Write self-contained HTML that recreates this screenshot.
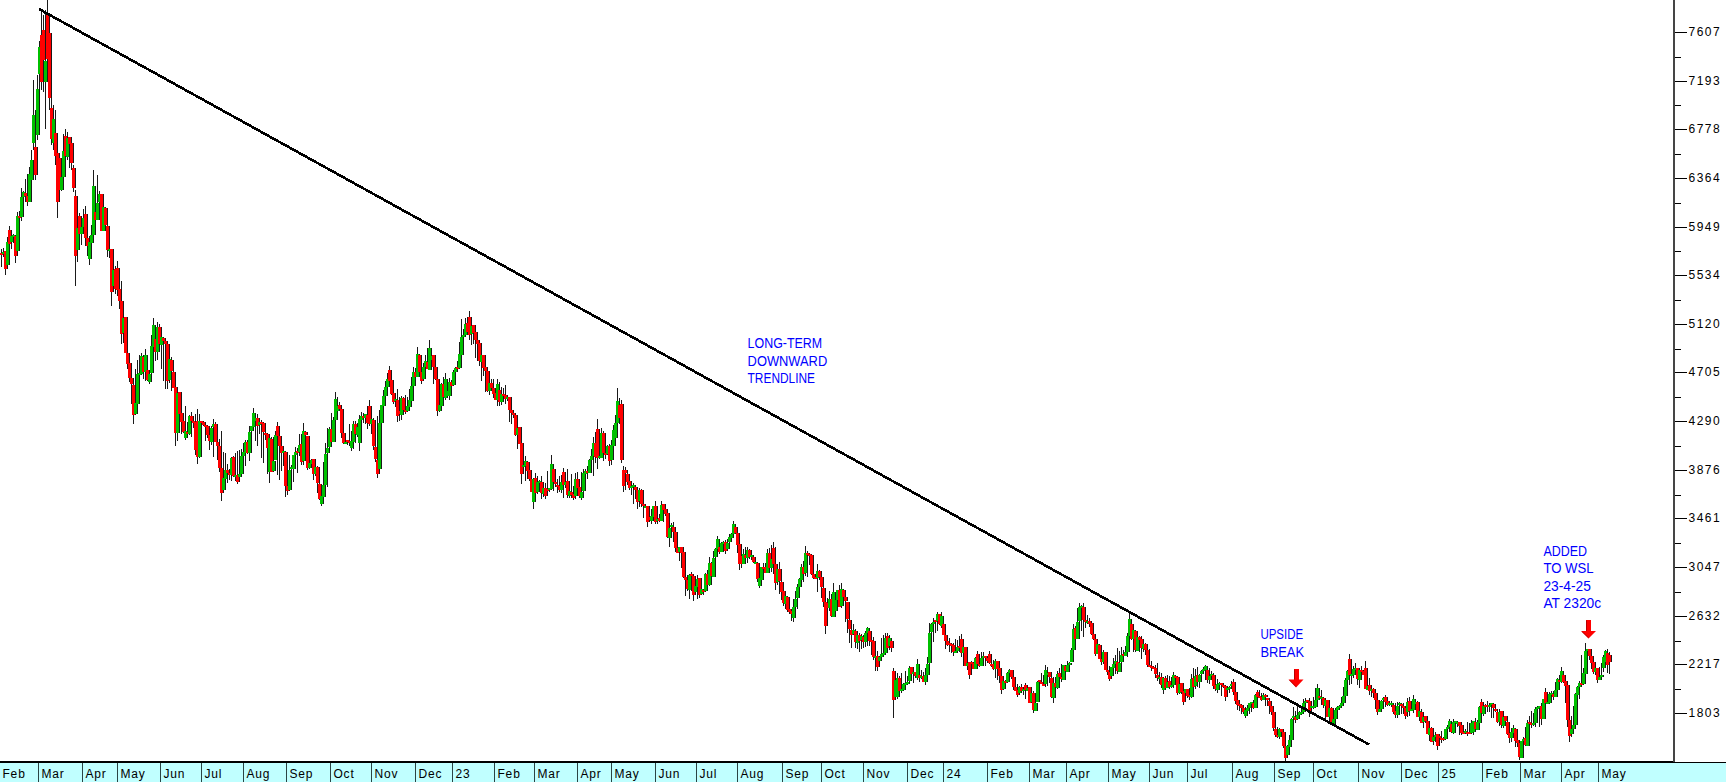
<!DOCTYPE html>
<html><head><meta charset="utf-8"><title>Chart</title>
<style>html,body{margin:0;padding:0;background:#fff;overflow:hidden}svg{display:block}.g{fill:#00c000}.r{fill:#ff0000}text{font-family:"Liberation Sans",sans-serif}</style>
</head><body><svg width="1726" height="782" viewBox="0 0 1726 782"><rect width="1726" height="782" fill="#fff"/><g shape-rendering="crispEdges"><path d="M1.5 249V267M3.5 253V255M3.5 248V257M5.5 252V254M5.5 251V275M7.5 251V269M7.5 237V265M9.5 242V265M9.5 226V247M11.5 230V244M11.5 232V249M13.5 236V242M13.5 234V243M15.5 235V237M15.5 235V263M17.5 236V256M17.5 212V255M19.5 216V251M19.5 211V235M21.5 216V218M21.5 188V221M23.5 197V217M23.5 191V200M25.5 192V197M25.5 179V202M27.5 193V196M27.5 174V206M29.5 196V202M29.5 167V202M31.5 174V202M31.5 150V190M33.5 160V180M33.5 80V150M35.5 115V143M35.5 110V180M37.5 147V175M37.5 75V140M39.5 89V135M39.5 41V100M41.5 47V74M41.5 12V90M43.5 35V82M43.5 15V92M45.5 30V60M45.5 10V129M47.5 61V82M47.5 0V65M49.5 14V59M49.5 25V110M51.5 33V98M51.5 90V145M53.5 108V139M53.5 105V150M55.5 119V143M55.5 110V165M57.5 133V156M57.5 151V218M59.5 153V202M59.5 158V192M61.5 158V190M61.5 166V191M63.5 177V190M63.5 134V178M65.5 151V177M65.5 129V162M67.5 136V156M67.5 132V160M69.5 138V157M69.5 137V168M71.5 137V144M71.5 143V170M73.5 143V163M73.5 165V192M75.5 168V188M75.5 190V286M77.5 196V256M77.5 225V262M79.5 228V250M79.5 213V239M81.5 216V234M81.5 218V245M83.5 227V234M83.5 209V228M85.5 218V227M85.5 206V246M87.5 214V238M87.5 237V256M89.5 238V246M89.5 236V265M91.5 242V259M91.5 225V255M93.5 235V243M93.5 170V236M95.5 186V235M95.5 206V223M97.5 212V220M97.5 175V220M99.5 203V220M99.5 191V212M101.5 194V202M101.5 194V231M103.5 194V231M103.5 200V231M105.5 207V231M105.5 207V226M107.5 208V225M107.5 216V257M109.5 226V250M109.5 244V258M111.5 249V251M111.5 249V306M113.5 249V292M113.5 268V292M115.5 270V286M115.5 266V294M117.5 269V289M117.5 261V296M119.5 268V290M119.5 287V309M121.5 289V301M121.5 281V344M123.5 301V334M123.5 312V343M125.5 318V333M125.5 317V353M127.5 317V353M127.5 346V369M129.5 353V364M129.5 360V382M131.5 363V378M131.5 378V404M133.5 378V384M133.5 379V424M135.5 385V415M135.5 369V414M137.5 403V414M137.5 360V404M139.5 374V404M139.5 355V376M141.5 373V375M141.5 353V375M143.5 356V374M143.5 355V379M145.5 357V372M145.5 349V381M147.5 355V372M147.5 367V381M149.5 370V380M149.5 373V384M151.5 374V382M151.5 335V375M153.5 346V373M153.5 318V365M155.5 325V347M155.5 330V361M157.5 339V352M157.5 322V360M159.5 327V352M159.5 324V345M161.5 327V344M161.5 327V369M163.5 337V345M163.5 337V381M165.5 338V341M165.5 340V389M167.5 341V344M167.5 344V389M169.5 344V381M169.5 352V383M171.5 359V380M171.5 357V391M173.5 360V371M173.5 370V388M175.5 372V388M175.5 373V446M177.5 387V433M177.5 389V441M179.5 393V433M179.5 392V428M181.5 392V414M181.5 413V434M183.5 413V422M183.5 417V433M185.5 421V432M185.5 406V440M187.5 431V438M187.5 422V434M189.5 432V434M189.5 415V435M191.5 416V434M191.5 412V437M193.5 416V421M193.5 417V428M195.5 421V423M195.5 414V455M197.5 422V450M197.5 409V464M199.5 421V457M199.5 414V458M201.5 421V457M201.5 421V440M203.5 421V423M203.5 421V426M205.5 422V425M205.5 425V441M207.5 425V427M207.5 426V438M209.5 426V435M209.5 427V450M211.5 435V441M211.5 426V445M213.5 428V442M213.5 419V457M215.5 424V427M215.5 422V442M217.5 424V442M217.5 430V460M219.5 442V446M219.5 439V472M221.5 446V468M221.5 431V501M223.5 468V493M223.5 452V493M225.5 478V490M225.5 453V481M227.5 470V479M227.5 464V483M229.5 470V473M229.5 469V480M231.5 473V475M231.5 457V481M233.5 458V475M233.5 456V477M235.5 457V476M235.5 453V481M237.5 475V477M237.5 451V484M239.5 475V482M239.5 450V480M241.5 474V477M241.5 449V476M243.5 456V474M243.5 443V465M245.5 452V456M245.5 440V466M247.5 442V453M247.5 440V454M249.5 442V453M249.5 426V461M251.5 432V453M251.5 426V433M253.5 426V431M253.5 408V429M255.5 413V427M255.5 418V441M257.5 418V421M257.5 414V446M259.5 418V426M259.5 419V434M261.5 422V425M261.5 420V458M263.5 422V424M263.5 423V463M265.5 423V432M265.5 432V440M267.5 433V435M267.5 434V474M269.5 434V448M269.5 435V483M271.5 438V472M271.5 437V472M273.5 439V472M273.5 437V472M275.5 461V471M275.5 431V460M277.5 435V460M277.5 422V475M279.5 426V436M279.5 434V480M281.5 436V446M281.5 437V471M283.5 446V453M283.5 448V466M285.5 451V453M285.5 451V497M287.5 452V486M287.5 482V495M289.5 486V491M289.5 455V490M291.5 470V490M291.5 465V483M293.5 467V469M293.5 455V482M295.5 455V469M295.5 447V458M297.5 452V455M297.5 448V473M299.5 451V453M299.5 434V456M301.5 445V452M301.5 434V465M303.5 444V462M303.5 423V465M305.5 431V461M305.5 431V461M307.5 432V435M307.5 436V470M309.5 436V468M309.5 448V469M311.5 463V468M311.5 459V466M313.5 460V464M313.5 459V480M315.5 459V474M315.5 463V476M317.5 467V474M317.5 466V493M319.5 467V483M319.5 475V500M321.5 484V499M321.5 494V506M323.5 496V504M323.5 462V497M325.5 485V497M325.5 443V489M327.5 454V485M327.5 428V487M329.5 448V453M329.5 427V452M331.5 429V447M331.5 413V443M333.5 429V442M333.5 417V442M335.5 420V442M335.5 392V420M337.5 399V420M337.5 397V420M339.5 406V411M339.5 402V411M341.5 405V409M341.5 407V438M343.5 409V433M343.5 414V444M345.5 433V443M345.5 440V444M347.5 442V444M347.5 440V445M349.5 440V442M349.5 424V446M351.5 441V443M351.5 431V451M353.5 441V448M353.5 421V449M355.5 424V442M355.5 421V443M357.5 424V434M357.5 423V437M359.5 427V435M359.5 415V451M361.5 419V443M361.5 412V436M363.5 416V420M363.5 413V423M365.5 416V418M365.5 414V424M367.5 414V418M367.5 406V429M369.5 415V423M369.5 400V426M371.5 406V424M371.5 414V434M373.5 419V424M373.5 418V450M375.5 420V446M375.5 436V462M377.5 447V459M377.5 416V478M379.5 460V474M379.5 410V469M381.5 423V469M381.5 405V430M383.5 405V423M383.5 390V413M385.5 396V406M385.5 381V402M387.5 387V396M387.5 373V388M389.5 379V387M389.5 366V387M391.5 370V381M391.5 371V395M393.5 380V394M393.5 390V404M395.5 393V402M395.5 394V407M397.5 399V401M397.5 389V422M399.5 400V416M399.5 397V421M401.5 411V414M401.5 396V420M403.5 398V415M403.5 397V411M405.5 398V410M405.5 395V414M407.5 410V412M407.5 397V411M409.5 406V411M409.5 389V408M411.5 400V407M411.5 377V401M413.5 386V401M413.5 367V392M415.5 372V386M415.5 368V383M417.5 372V377M417.5 347V377M419.5 354V377M419.5 355V372M421.5 355V372M421.5 362V384M423.5 372V381M423.5 363V380M425.5 367V379M425.5 355V370M427.5 361V367M427.5 348V369M429.5 362V369M429.5 340V370M431.5 348V370M431.5 352V369M433.5 356V360M433.5 355V384M435.5 355V367M435.5 367V380M437.5 367V379M437.5 379V416M439.5 379V411M439.5 403V412M441.5 405V411M441.5 383V408M443.5 384V406M443.5 377V401M445.5 384V397M445.5 373V400M447.5 379V398M447.5 379V398M449.5 391V396M449.5 378V400M451.5 382V396M451.5 380V387M453.5 382V386M453.5 370V385M455.5 372V385M455.5 367V376M457.5 368V372M457.5 361V371M459.5 367V369M459.5 342V368M461.5 354V368M461.5 319V355M463.5 337V355M463.5 329V339M465.5 335V337M465.5 318V337M467.5 324V335M467.5 317V335M469.5 323V332M469.5 311V340M471.5 317V335M471.5 323V345M473.5 326V334M473.5 325V344M475.5 325V333M475.5 331V358M477.5 332V340M477.5 338V361M479.5 340V344M479.5 342V366M481.5 343V361M481.5 346V381M483.5 355V362M483.5 355V376M485.5 355V368M485.5 367V392M487.5 367V371M487.5 371V392M489.5 371V391M489.5 381V395M491.5 383V391M491.5 379V388M493.5 383V388M493.5 379V398M495.5 388V394M495.5 390V400M497.5 393V400M497.5 379V406M499.5 384V400M499.5 382V406M501.5 390V402M501.5 387V405M503.5 394V402M503.5 388V402M505.5 394V396M505.5 385V404M507.5 395V399M507.5 397V401M509.5 397V399M509.5 397V422M511.5 397V410M511.5 410V424M513.5 410V413M513.5 412V418M515.5 413V415M515.5 415V436M517.5 415V435M517.5 424V449M519.5 428V435M519.5 427V444M521.5 427V444M521.5 435V484M523.5 443V474M523.5 457V467M525.5 465V467M525.5 456V481M527.5 461V466M527.5 461V479M529.5 462V471M529.5 467V481M531.5 470V479M531.5 479V492M533.5 479V492M533.5 478V509M535.5 479V502M535.5 473V494M537.5 478V493M537.5 476V494M539.5 482V492M539.5 480V483M541.5 481V483M541.5 476V499M543.5 482V493M543.5 487V497M545.5 488V494M545.5 483V499M547.5 488V496M547.5 471V495M549.5 489V491M549.5 488V492M551.5 488V490M551.5 455V489M553.5 464V489M553.5 469V491M555.5 469V482M555.5 482V487M557.5 482V484M557.5 479V493M559.5 485V487M559.5 476V492M561.5 486V490M561.5 475V493M563.5 482V490M563.5 468V498M565.5 472V485M565.5 475V488M567.5 482V485M567.5 469V498M569.5 481V495M569.5 486V498M571.5 491V496M571.5 474V498M573.5 492V495M573.5 486V500M575.5 494V498M575.5 473V499M577.5 479V496M577.5 472V491M579.5 479V488M579.5 484V498M581.5 487V496M581.5 472V500M583.5 492V498M583.5 469V492M585.5 473V491M585.5 469V476M587.5 471V474M587.5 466V479M589.5 471V473M589.5 459V473M591.5 460V473M591.5 449V463M593.5 456V460M593.5 437V476M595.5 443V456M595.5 432V463M597.5 443V457M597.5 419V469M599.5 429V458M599.5 444V459M601.5 456V458M601.5 428V458M603.5 433V458M603.5 431V461M605.5 433V453M605.5 446V459M607.5 453V455M607.5 445V455M609.5 446V454M609.5 444V466M611.5 446V461M611.5 440V465M613.5 445V460M613.5 425V452M615.5 430V446M615.5 415V442M617.5 423V438M617.5 388V428M619.5 401V423M619.5 398V424M621.5 405V418M621.5 400V463M623.5 404V460M623.5 466V492M625.5 470V486M625.5 467V490M627.5 470V473M627.5 471V485M629.5 474V482M629.5 480V490M631.5 481V488M631.5 485V495M633.5 486V488M633.5 483V504M635.5 485V487M635.5 487V499M637.5 487V490M637.5 489V509M639.5 490V502M639.5 488V507M641.5 490V501M641.5 489V507M643.5 490V504M643.5 503V518M645.5 504V506M645.5 505V508M647.5 506V508M647.5 506V527M649.5 506V522M649.5 509V520M651.5 517V520M651.5 509V524M653.5 516V521M653.5 506V518M655.5 506V517M655.5 501V524M657.5 506V522M657.5 509V524M659.5 519V521M659.5 514V522M661.5 518V521M661.5 501V521M663.5 505V521M663.5 504V522M665.5 504V510M665.5 509V516M667.5 509V514M667.5 513V538M669.5 513V537M669.5 521V547M671.5 528V538M671.5 523V528M673.5 525V527M673.5 522V542M675.5 527V532M675.5 530V552M677.5 532V548M677.5 540V553M679.5 548V553M679.5 547V561M681.5 547V552M681.5 547V568M683.5 547V553M683.5 552V578M685.5 552V577M685.5 565V596M687.5 577V580M687.5 575V591M689.5 580V589M689.5 574V599M691.5 575V590M691.5 572V591M693.5 574V576M693.5 575V601M695.5 576V595M695.5 584V595M697.5 586V592M697.5 575V599M699.5 579V587M699.5 578V598M701.5 578V595M701.5 580V595M703.5 589V594M703.5 590V595M705.5 590V592M705.5 573V591M707.5 574V591M707.5 570V586M709.5 574V585M709.5 557V586M711.5 563V585M711.5 562V577M713.5 563V576M713.5 551V577M715.5 558V577M715.5 548V561M717.5 549V557M717.5 536V549M719.5 539V549M719.5 540V554M721.5 547V552M721.5 542V552M723.5 543V552M723.5 541V551M725.5 542V544M725.5 540V554M727.5 542V551M727.5 539V551M729.5 543V549M729.5 534V547M731.5 537V542M731.5 533V540M733.5 534V538M733.5 521V536M735.5 524V534M735.5 526V533M737.5 527V533M737.5 533V553M739.5 533V545M739.5 544V570M741.5 544V564M741.5 554V568M743.5 556V564M743.5 549V564M745.5 554V564M745.5 547V563M747.5 555V558M747.5 547V563M749.5 550V558M749.5 549V559M751.5 550V557M751.5 555V560M753.5 555V557M753.5 557V563M755.5 557V562M755.5 561V564M757.5 562V564M757.5 563V582M759.5 563V579M759.5 568V588M761.5 578V586M761.5 567V580M763.5 567V580M763.5 563V571M765.5 567V569M765.5 563V573M767.5 567V573M767.5 549V573M769.5 553V573M769.5 548V568M771.5 553V568M771.5 545V572M773.5 559V568M773.5 542V574M775.5 548V564M775.5 547V590M777.5 564V583M777.5 567V585M779.5 569V582M779.5 562V594M781.5 569V581M781.5 573V600M783.5 582V592M783.5 587V606M785.5 591V603M785.5 595V609M787.5 596V604M787.5 596V612M789.5 597V610M789.5 606V614M791.5 609V612M791.5 610V621M793.5 611V614M793.5 599V622M795.5 607V618M795.5 591V616M797.5 599V607M797.5 584V609M799.5 587V598M799.5 578V595M801.5 579V587M801.5 564V582M803.5 567V580M803.5 561V582M805.5 567V574M805.5 546V576M807.5 553V573M807.5 551V577M809.5 553V555M809.5 553V565M811.5 554V556M811.5 555V575M813.5 555V574M813.5 555V579M815.5 574V578M815.5 574V579M817.5 577V579M817.5 564V592M819.5 571V578M819.5 570V580M821.5 571V577M821.5 577V598M823.5 577V587M823.5 587V607M825.5 588V602M825.5 597V634M827.5 602V626M827.5 598V608M829.5 603V608M829.5 591V611M831.5 599V608M831.5 594V617M833.5 599V616M833.5 583V617M835.5 592V617M835.5 599V613M837.5 600V611M837.5 590V603M839.5 590V600M839.5 585V607M841.5 590V607M841.5 583V608M843.5 589V606M843.5 589V601M845.5 590V597M845.5 597V622M847.5 597V601M847.5 602V633M849.5 602V619M849.5 616V643M851.5 620V629M851.5 623V648M853.5 630V635M853.5 624V634M855.5 630V634M855.5 629V648M857.5 631V642M857.5 633V649M859.5 635V643M859.5 633V652M861.5 635V641M861.5 634V649M863.5 636V640M863.5 635V648M865.5 637V642M865.5 631V647M867.5 633V642M867.5 627V646M869.5 628V633M869.5 631V646M871.5 631V641M871.5 636V655M873.5 640V642M873.5 637V660M875.5 641V657M875.5 643V671M877.5 656V658M877.5 651V671M879.5 656V667M879.5 656V663M881.5 657V661M881.5 638V661M883.5 654V657M883.5 635V656M885.5 653V655M885.5 633V654M887.5 638V653M887.5 633V651M889.5 636V648M889.5 635V650M891.5 638V646M891.5 640V652M893.5 641V648M893.5 668V718M895.5 671V700M895.5 676V700M897.5 680V697M897.5 673V699M899.5 678V697M899.5 676V694M901.5 678V691M901.5 673V693M903.5 689V691M903.5 683V691M905.5 684V690M905.5 671V689M907.5 683V685M907.5 676V684M909.5 682V684M909.5 666V683M911.5 668V681M911.5 667V680M913.5 667V674M913.5 669V683M915.5 672V674M915.5 672V678M917.5 672V676M917.5 659V680M919.5 664V678M919.5 672V682M921.5 675V678M921.5 670V679M923.5 676V678M923.5 672V682M925.5 676V682M925.5 668V685M927.5 675V682M927.5 657V675M929.5 664V675M929.5 623V665M931.5 633V663M931.5 623V643M933.5 624V632M933.5 618V642M935.5 622V624M935.5 620V633M937.5 620V622M937.5 612V631M939.5 614V621M939.5 614V625M941.5 614V624M941.5 612V628M943.5 616V626M943.5 623V635M945.5 624V635M945.5 625V649M947.5 635V641M947.5 636V646M949.5 641V645M949.5 638V652M951.5 643V645M951.5 643V653M953.5 644V646M953.5 643V656M955.5 645V652M955.5 639V653M957.5 651V653M957.5 640V652M959.5 647V651M959.5 636V652M961.5 646V648M961.5 634V657M963.5 639V653M963.5 647V666M965.5 647V653M965.5 647V666M967.5 647V666M967.5 661V670M969.5 663V666M969.5 662V679M971.5 662V675M971.5 661V666M973.5 662V664M973.5 662V669M975.5 663V669M975.5 657V669M977.5 658V669M977.5 651V665M979.5 654V664M979.5 663V667M981.5 664V666M981.5 652V666M983.5 658V666M983.5 652V661M985.5 656V658M985.5 656V666M987.5 656V658M987.5 657V663M989.5 658V661M989.5 651V664M991.5 654V663M991.5 658V667M993.5 664V666M993.5 660V670M995.5 664V669M995.5 659V678M997.5 661V669M997.5 661V680M999.5 661V669M999.5 668V683M1001.5 668V676M1001.5 676V694M1003.5 676V690M1003.5 677V690M1005.5 681V689M1005.5 680V686M1007.5 681V683M1007.5 672V683M1009.5 673V682M1009.5 669V674M1011.5 670V673M1011.5 670V679M1013.5 670V677M1013.5 676V690M1015.5 677V687M1015.5 681V691M1017.5 687V691M1017.5 684V697M1019.5 690V695M1019.5 686V695M1021.5 687V693M1021.5 684V692M1023.5 687V691M1023.5 687V695M1025.5 689V691M1025.5 683V699M1027.5 685V690M1027.5 686V691M1029.5 688V691M1029.5 687V703M1031.5 687V703M1031.5 691V703M1033.5 693V702M1033.5 691V713M1035.5 693V710M1035.5 694V711M1037.5 703V711M1037.5 681V702M1039.5 682V702M1039.5 680V690M1041.5 680V682M1041.5 673V684M1043.5 682V684M1043.5 675V686M1045.5 684V686M1045.5 665V687M1047.5 670V684M1047.5 667V686M1049.5 673V675M1049.5 672V683M1051.5 672V677M1051.5 676V698M1053.5 678V697M1053.5 677V703M1055.5 683V698M1055.5 677V693M1057.5 683V687M1057.5 671V689M1059.5 674V688M1059.5 668V680M1061.5 673V677M1061.5 664V682M1063.5 677V679M1063.5 665V680M1065.5 665V680M1065.5 665V673M1067.5 666V671M1067.5 661V672M1069.5 665V672M1069.5 662V668M1071.5 663V665M1071.5 648V662M1073.5 650V662M1073.5 624V651M1075.5 629V650M1075.5 626V642M1077.5 628V639M1077.5 608V639M1079.5 622V639M1079.5 603V623M1081.5 607V621M1081.5 605V631M1083.5 606V608M1083.5 603V637M1085.5 607V620M1085.5 613V628M1087.5 620V622M1087.5 615V624M1089.5 621V623M1089.5 618V627M1091.5 621V624M1091.5 623V635M1093.5 623V634M1093.5 633V640M1095.5 634V639M1095.5 639V656M1097.5 639V654M1097.5 644V654M1099.5 644V654M1099.5 644V659M1101.5 645V659M1101.5 646V665M1103.5 659V662M1103.5 650V664M1105.5 652V662M1105.5 652V670M1107.5 652V670M1107.5 663V675M1109.5 670V672M1109.5 666V681M1111.5 672V679M1111.5 667V676M1113.5 667V676M1113.5 658V670M1115.5 664V668M1115.5 655V674M1117.5 661V664M1117.5 648V674M1119.5 662V671M1119.5 651V672M1121.5 663V672M1121.5 647V664M1123.5 655V662M1123.5 650V660M1125.5 654V656M1125.5 646V656M1127.5 652V656M1127.5 633V657M1129.5 636V652M1129.5 613V648M1131.5 619V636M1131.5 620V640M1133.5 624V639M1133.5 626V652M1135.5 630V639M1135.5 630V652M1137.5 631V650M1137.5 637V651M1139.5 637V651M1139.5 636V652M1141.5 637V640M1141.5 636V659M1143.5 639V648M1143.5 642V652M1145.5 644V649M1145.5 643V655M1147.5 644V650M1147.5 648V667M1149.5 650V665M1149.5 649V667M1151.5 665V667M1151.5 661V671M1153.5 666V668M1153.5 666V669M1155.5 667V669M1155.5 665V678M1157.5 668V674M1157.5 663V681M1159.5 675V678M1159.5 672V684M1161.5 677V679M1161.5 673V688M1163.5 677V685M1163.5 677V694M1165.5 678V690M1165.5 676V690M1167.5 678V688M1167.5 675V688M1169.5 682V688M1169.5 676V689M1171.5 681V687M1171.5 677V688M1173.5 685V687M1173.5 672V688M1175.5 675V685M1175.5 676V679M1177.5 676V678M1177.5 677V695M1179.5 677V693M1179.5 681V694M1181.5 684V693M1181.5 683V694M1183.5 683V692M1183.5 689V705M1185.5 691V702M1185.5 689V698M1187.5 689V693M1187.5 689V698M1189.5 689V696M1189.5 688V700M1191.5 695V697M1191.5 674V698M1193.5 679V697M1193.5 668V694M1195.5 678V687M1195.5 669V689M1197.5 676V686M1197.5 667V687M1199.5 675V682M1199.5 674V688M1201.5 675V682M1201.5 670V678M1203.5 671V674M1203.5 667V673M1205.5 669V671M1205.5 665V680M1207.5 666V670M1207.5 667V683M1209.5 670V680M1209.5 668V684M1211.5 676V680M1211.5 671V679M1213.5 674V676M1213.5 673V689M1215.5 675V686M1215.5 682V691M1217.5 685V689M1217.5 679V693M1219.5 684V690M1219.5 682V690M1221.5 683V685M1221.5 683V696M1223.5 683V685M1223.5 685V688M1225.5 685V687M1225.5 685V701M1227.5 686V697M1227.5 688V690M1229.5 688V690M1229.5 686V693M1231.5 687V689M1231.5 681V689M1233.5 684V686M1233.5 679V695M1235.5 682V692M1235.5 689V704M1237.5 692V701M1237.5 699V710M1239.5 700V705M1239.5 701V711M1241.5 704V706M1241.5 704V714M1243.5 705V708M1243.5 708V714M1245.5 708V712M1245.5 707V718M1247.5 710V716M1247.5 705V711M1249.5 708V711M1249.5 703V714M1251.5 703V708M1251.5 702V712M1253.5 702V704M1253.5 700V709M1255.5 703V708M1255.5 694V708M1257.5 695V708M1257.5 690V701M1259.5 692V697M1259.5 690V698M1261.5 696V698M1261.5 693V701M1263.5 697V700M1263.5 693V700M1265.5 695V700M1265.5 694V706M1267.5 695V697M1267.5 698V706M1269.5 698V700M1269.5 698V714M1271.5 701V706M1271.5 704V715M1273.5 706V712M1273.5 711V731M1275.5 712V728M1275.5 721V737M1277.5 729V735M1277.5 727V738M1279.5 735V737M1279.5 728V739M1281.5 729V737M1281.5 729V735M1283.5 729V732M1283.5 732V748M1285.5 732V746M1285.5 745V761M1287.5 746V758M1287.5 745V755M1289.5 746V755M1289.5 735V748M1291.5 740V747M1291.5 718V740M1293.5 719V740M1293.5 707V723M1295.5 716V718M1295.5 711V723M1297.5 717V720M1297.5 703V720M1299.5 715V719M1299.5 711V715M1301.5 712V715M1301.5 708V714M1303.5 712V714M1303.5 699V712M1305.5 703V712M1305.5 698V705M1307.5 701V703M1307.5 700V703M1309.5 700V702M1309.5 698V717M1311.5 701V713M1311.5 705V711M1313.5 706V708M1313.5 697V709M1315.5 706V708M1315.5 688V707M1317.5 700V707M1317.5 684V702M1319.5 688V700M1319.5 695V699M1321.5 696V698M1321.5 690V705M1323.5 697V699M1323.5 698V708M1325.5 698V705M1325.5 698V719M1327.5 700V706M1327.5 700V717M1329.5 700V717M1329.5 708V721M1331.5 708V717M1331.5 707V724M1333.5 708V722M1333.5 709V726M1335.5 719V724M1335.5 708V721M1337.5 710V719M1337.5 706V715M1339.5 707V710M1339.5 705V708M1341.5 706V708M1341.5 697V706M1343.5 703V706M1343.5 687V703M1345.5 696V703M1345.5 678V697M1347.5 680V696M1347.5 670V689M1349.5 671V680M1349.5 654V685M1351.5 659V675M1351.5 670V684M1353.5 674V676M1353.5 666V678M1355.5 669V675M1355.5 663V671M1357.5 668V670M1357.5 668V685M1359.5 668V679M1359.5 670V688M1361.5 670V680M1361.5 666V673M1363.5 670V672M1363.5 671V675M1365.5 671V675M1365.5 661V689M1367.5 668V689M1367.5 681V690M1369.5 686V690M1369.5 678V695M1371.5 685V691M1371.5 689V697M1373.5 689V691M1373.5 688V698M1375.5 689V693M1375.5 693V709M1377.5 693V700M1377.5 699V715M1379.5 700V712M1379.5 701V712M1381.5 709V712M1381.5 700V712M1383.5 701V709M1383.5 697V704M1385.5 698V700M1385.5 695V707M1387.5 697V702M1387.5 700V706M1389.5 701V705M1389.5 702V706M1391.5 703V705M1391.5 701V707M1393.5 703V705M1393.5 704V714M1395.5 705V712M1395.5 703V718M1397.5 711V715M1397.5 702V718M1399.5 706V715M1399.5 702V711M1401.5 703V705M1401.5 703V714M1403.5 704V706M1403.5 703V714M1405.5 706V708M1405.5 706V719M1407.5 708V716M1407.5 698V717M1409.5 702V712M1409.5 697V716M1411.5 701V711M1411.5 709V711M1413.5 709V711M1413.5 695V713M1415.5 699V710M1415.5 699V704M1417.5 702V704M1417.5 701V717M1419.5 702V717M1419.5 706V721M1421.5 711V717M1421.5 709V723M1423.5 712V723M1423.5 714V728M1425.5 717V722M1425.5 716V723M1427.5 716V721M1427.5 721V734M1429.5 721V734M1429.5 727V741M1431.5 728V735M1431.5 727V742M1433.5 728V742M1433.5 736V745M1435.5 737V741M1435.5 732V742M1437.5 735V737M1437.5 734V750M1439.5 734V746M1439.5 735V740M1441.5 736V738M1441.5 731V743M1443.5 738V740M1443.5 737V741M1445.5 738V740M1445.5 729V739M1447.5 729V739M1447.5 725V732M1449.5 727V729M1449.5 719V732M1451.5 721V727M1451.5 721V733M1453.5 724V732M1453.5 719V734M1455.5 722V733M1455.5 721V727M1457.5 721V723M1457.5 721V727M1459.5 722V724M1459.5 722V735M1461.5 722V726M1461.5 723V735M1463.5 725V733M1463.5 726V734M1465.5 732V734M1465.5 729V733M1467.5 731V733M1467.5 722V736M1469.5 732V734M1469.5 723V734M1471.5 732V734M1471.5 720V734M1473.5 723V733M1473.5 721V735M1475.5 721V732M1475.5 718V730M1477.5 722V729M1477.5 720V730M1479.5 722V730M1479.5 706V724M1481.5 707V723M1481.5 699V717M1483.5 702V713M1483.5 704V716M1485.5 706V714M1485.5 704V713M1487.5 705V707M1487.5 701V712M1489.5 705V707M1489.5 703V712M1491.5 705V707M1491.5 703V718M1493.5 703V705M1493.5 704V718M1495.5 704V708M1495.5 708V712M1497.5 709V711M1497.5 710V723M1499.5 712V722M1499.5 709V726M1501.5 712V722M1501.5 711V728M1503.5 711V725M1503.5 714V728M1505.5 717V726M1505.5 716V725M1507.5 716V721M1507.5 720V735M1509.5 722V734M1509.5 729V743M1511.5 733V738M1511.5 728V742M1513.5 732V738M1513.5 725V734M1515.5 728V733M1515.5 728V747M1517.5 729V741M1517.5 739V747M1519.5 740V743M1519.5 743V760M1521.5 743V757M1521.5 741V758M1523.5 741V758M1523.5 737V744M1525.5 739V741M1525.5 727V746M1527.5 738V745M1527.5 720V746M1529.5 723V746M1529.5 716V731M1531.5 722V724M1531.5 711V728M1533.5 723V725M1533.5 713V726M1535.5 723V725M1535.5 707V727M1537.5 709V723M1537.5 706V718M1539.5 707V709M1539.5 706V727M1541.5 706V708M1541.5 703V725M1543.5 706V719M1543.5 699V719M1545.5 699V719M1545.5 688V707M1547.5 692V703M1547.5 692V704M1549.5 702V704M1549.5 692V704M1551.5 694V703M1551.5 691V698M1553.5 693V695M1553.5 691V700M1555.5 694V697M1555.5 682V697M1557.5 690V697M1557.5 678V690M1559.5 679V690M1559.5 675V686M1561.5 680V682M1561.5 667V683M1563.5 671V682M1563.5 675V683M1565.5 675V682M1565.5 681V703M1567.5 681V686M1567.5 685V727M1569.5 685V720M1569.5 720V742M1571.5 720V736M1571.5 716V737M1573.5 729V734M1573.5 706V729M1575.5 725V729M1575.5 693V725M1577.5 694V725M1577.5 686V699M1579.5 687V695M1579.5 681V699M1581.5 683V687M1581.5 655V687M1583.5 683V685M1583.5 668V684M1585.5 673V684M1585.5 643V674M1587.5 651V674M1587.5 649V655M1589.5 649V651M1589.5 649V660M1591.5 649V656M1591.5 656V669M1593.5 656V663M1593.5 660V674M1595.5 662V672M1595.5 667V675M1597.5 668V672M1597.5 668V683M1599.5 668V680M1599.5 667V680M1601.5 677V680M1601.5 663V678M1603.5 675V677M1603.5 655V672M1605.5 657V668M1605.5 650V668M1607.5 651V662M1607.5 649V673M1609.5 653V665M1609.5 652V674M1611.5 655V662" stroke="#1a1a1a" stroke-width="1" fill="none"/><rect class="r" x="0" y="253" width="3" height="2"/><rect class="g" x="2" y="252" width="3" height="2"/><rect class="r" x="4" y="251" width="3" height="18"/><rect class="g" x="6" y="242" width="3" height="23"/><rect class="r" x="8" y="230" width="3" height="14"/><rect class="g" x="10" y="236" width="3" height="6"/><rect class="g" x="12" y="235" width="3" height="2"/><rect class="r" x="14" y="236" width="3" height="20"/><rect class="g" x="16" y="216" width="3" height="35"/><rect class="r" x="18" y="216" width="3" height="2"/><rect class="g" x="20" y="197" width="3" height="20"/><rect class="g" x="22" y="192" width="3" height="5"/><rect class="r" x="24" y="193" width="3" height="3"/><rect class="r" x="26" y="196" width="3" height="6"/><rect class="g" x="28" y="174" width="3" height="28"/><rect class="g" x="30" y="160" width="3" height="20"/><rect class="g" x="32" y="115" width="3" height="28"/><rect class="r" x="34" y="147" width="3" height="28"/><rect class="g" x="36" y="89" width="3" height="46"/><rect class="g" x="38" y="47" width="3" height="27"/><rect class="r" x="40" y="35" width="3" height="47"/><rect class="r" x="42" y="30" width="3" height="30"/><rect class="g" x="44" y="61" width="3" height="21"/><rect class="r" x="46" y="14" width="3" height="45"/><rect class="r" x="48" y="33" width="3" height="65"/><rect class="r" x="50" y="108" width="3" height="31"/><rect class="g" x="52" y="119" width="3" height="24"/><rect class="r" x="54" y="133" width="3" height="23"/><rect class="r" x="56" y="153" width="3" height="49"/><rect class="r" x="58" y="158" width="3" height="32"/><rect class="g" x="60" y="177" width="3" height="13"/><rect class="g" x="62" y="151" width="3" height="26"/><rect class="r" x="64" y="136" width="3" height="20"/><rect class="g" x="66" y="138" width="3" height="19"/><rect class="r" x="68" y="137" width="3" height="7"/><rect class="r" x="70" y="143" width="3" height="20"/><rect class="r" x="72" y="168" width="3" height="20"/><rect class="r" x="74" y="196" width="3" height="60"/><rect class="g" x="76" y="228" width="3" height="22"/><rect class="r" x="78" y="216" width="3" height="18"/><rect class="g" x="80" y="227" width="3" height="7"/><rect class="g" x="82" y="218" width="3" height="9"/><rect class="r" x="84" y="214" width="3" height="24"/><rect class="r" x="86" y="238" width="3" height="8"/><rect class="g" x="88" y="242" width="3" height="17"/><rect class="g" x="90" y="235" width="3" height="8"/><rect class="g" x="92" y="186" width="3" height="49"/><rect class="r" x="94" y="212" width="3" height="8"/><rect class="g" x="96" y="203" width="3" height="17"/><rect class="g" x="98" y="194" width="3" height="8"/><rect class="r" x="100" y="194" width="3" height="37"/><rect class="g" x="102" y="207" width="3" height="24"/><rect class="r" x="104" y="208" width="3" height="17"/><rect class="r" x="106" y="226" width="3" height="24"/><rect class="g" x="108" y="249" width="3" height="2"/><rect class="r" x="110" y="249" width="3" height="43"/><rect class="g" x="112" y="270" width="3" height="16"/><rect class="r" x="114" y="269" width="3" height="20"/><rect class="r" x="116" y="268" width="3" height="22"/><rect class="r" x="118" y="289" width="3" height="12"/><rect class="r" x="120" y="301" width="3" height="33"/><rect class="g" x="122" y="318" width="3" height="15"/><rect class="r" x="124" y="317" width="3" height="36"/><rect class="r" x="126" y="353" width="3" height="11"/><rect class="r" x="128" y="363" width="3" height="15"/><rect class="r" x="130" y="378" width="3" height="6"/><rect class="r" x="132" y="385" width="3" height="30"/><rect class="g" x="134" y="403" width="3" height="11"/><rect class="g" x="136" y="374" width="3" height="30"/><rect class="g" x="138" y="373" width="3" height="2"/><rect class="g" x="140" y="356" width="3" height="18"/><rect class="r" x="142" y="357" width="3" height="15"/><rect class="g" x="144" y="355" width="3" height="17"/><rect class="r" x="146" y="370" width="3" height="10"/><rect class="g" x="148" y="374" width="3" height="8"/><rect class="g" x="150" y="346" width="3" height="27"/><rect class="g" x="152" y="325" width="3" height="22"/><rect class="r" x="154" y="339" width="3" height="13"/><rect class="g" x="156" y="327" width="3" height="25"/><rect class="r" x="158" y="327" width="3" height="17"/><rect class="g" x="160" y="337" width="3" height="8"/><rect class="r" x="162" y="338" width="3" height="3"/><rect class="r" x="164" y="341" width="3" height="3"/><rect class="r" x="166" y="344" width="3" height="37"/><rect class="g" x="168" y="359" width="3" height="21"/><rect class="r" x="170" y="360" width="3" height="11"/><rect class="r" x="172" y="372" width="3" height="16"/><rect class="r" x="174" y="387" width="3" height="46"/><rect class="g" x="176" y="393" width="3" height="40"/><rect class="r" x="178" y="392" width="3" height="22"/><rect class="r" x="180" y="413" width="3" height="9"/><rect class="r" x="182" y="421" width="3" height="11"/><rect class="g" x="184" y="431" width="3" height="7"/><rect class="r" x="186" y="432" width="3" height="2"/><rect class="g" x="188" y="416" width="3" height="18"/><rect class="r" x="190" y="416" width="3" height="5"/><rect class="r" x="192" y="421" width="3" height="2"/><rect class="r" x="194" y="422" width="3" height="28"/><rect class="r" x="196" y="421" width="3" height="36"/><rect class="g" x="198" y="421" width="3" height="36"/><rect class="r" x="200" y="421" width="3" height="2"/><rect class="r" x="202" y="422" width="3" height="3"/><rect class="r" x="204" y="425" width="3" height="2"/><rect class="r" x="206" y="426" width="3" height="9"/><rect class="r" x="208" y="435" width="3" height="6"/><rect class="g" x="210" y="428" width="3" height="14"/><rect class="g" x="212" y="424" width="3" height="3"/><rect class="r" x="214" y="424" width="3" height="18"/><rect class="r" x="216" y="442" width="3" height="4"/><rect class="r" x="218" y="446" width="3" height="22"/><rect class="r" x="220" y="468" width="3" height="25"/><rect class="g" x="222" y="478" width="3" height="12"/><rect class="g" x="224" y="470" width="3" height="9"/><rect class="r" x="226" y="470" width="3" height="3"/><rect class="r" x="228" y="473" width="3" height="2"/><rect class="g" x="230" y="458" width="3" height="17"/><rect class="r" x="232" y="457" width="3" height="19"/><rect class="g" x="234" y="475" width="3" height="2"/><rect class="r" x="236" y="475" width="3" height="7"/><rect class="g" x="238" y="474" width="3" height="3"/><rect class="g" x="240" y="456" width="3" height="18"/><rect class="g" x="242" y="452" width="3" height="4"/><rect class="g" x="244" y="442" width="3" height="11"/><rect class="r" x="246" y="442" width="3" height="11"/><rect class="g" x="248" y="432" width="3" height="21"/><rect class="g" x="250" y="426" width="3" height="5"/><rect class="g" x="252" y="413" width="3" height="14"/><rect class="g" x="254" y="418" width="3" height="3"/><rect class="r" x="256" y="418" width="3" height="8"/><rect class="g" x="258" y="422" width="3" height="3"/><rect class="r" x="260" y="422" width="3" height="2"/><rect class="r" x="262" y="423" width="3" height="9"/><rect class="r" x="264" y="433" width="3" height="2"/><rect class="r" x="266" y="434" width="3" height="14"/><rect class="g" x="268" y="438" width="3" height="34"/><rect class="r" x="270" y="439" width="3" height="33"/><rect class="g" x="272" y="461" width="3" height="10"/><rect class="g" x="274" y="435" width="3" height="25"/><rect class="r" x="276" y="426" width="3" height="10"/><rect class="r" x="278" y="436" width="3" height="10"/><rect class="r" x="280" y="446" width="3" height="7"/><rect class="g" x="282" y="451" width="3" height="2"/><rect class="r" x="284" y="452" width="3" height="34"/><rect class="r" x="286" y="486" width="3" height="5"/><rect class="g" x="288" y="470" width="3" height="20"/><rect class="g" x="290" y="467" width="3" height="2"/><rect class="g" x="292" y="455" width="3" height="14"/><rect class="g" x="294" y="452" width="3" height="3"/><rect class="r" x="296" y="451" width="3" height="2"/><rect class="g" x="298" y="445" width="3" height="7"/><rect class="r" x="300" y="444" width="3" height="18"/><rect class="g" x="302" y="431" width="3" height="30"/><rect class="r" x="304" y="432" width="3" height="3"/><rect class="r" x="306" y="436" width="3" height="32"/><rect class="g" x="308" y="463" width="3" height="5"/><rect class="g" x="310" y="460" width="3" height="4"/><rect class="r" x="312" y="459" width="3" height="15"/><rect class="g" x="314" y="467" width="3" height="7"/><rect class="r" x="316" y="467" width="3" height="16"/><rect class="r" x="318" y="484" width="3" height="15"/><rect class="g" x="320" y="496" width="3" height="8"/><rect class="g" x="322" y="485" width="3" height="12"/><rect class="g" x="324" y="454" width="3" height="31"/><rect class="g" x="326" y="448" width="3" height="5"/><rect class="g" x="328" y="429" width="3" height="18"/><rect class="r" x="330" y="429" width="3" height="13"/><rect class="g" x="332" y="420" width="3" height="22"/><rect class="g" x="334" y="399" width="3" height="21"/><rect class="g" x="336" y="406" width="3" height="5"/><rect class="r" x="338" y="405" width="3" height="4"/><rect class="r" x="340" y="409" width="3" height="24"/><rect class="r" x="342" y="433" width="3" height="10"/><rect class="g" x="344" y="442" width="3" height="2"/><rect class="r" x="346" y="440" width="3" height="2"/><rect class="r" x="348" y="441" width="3" height="2"/><rect class="g" x="350" y="441" width="3" height="7"/><rect class="g" x="352" y="424" width="3" height="18"/><rect class="r" x="354" y="424" width="3" height="10"/><rect class="g" x="356" y="427" width="3" height="8"/><rect class="g" x="358" y="419" width="3" height="24"/><rect class="g" x="360" y="416" width="3" height="4"/><rect class="r" x="362" y="416" width="3" height="2"/><rect class="g" x="364" y="414" width="3" height="4"/><rect class="r" x="366" y="415" width="3" height="8"/><rect class="r" x="368" y="406" width="3" height="18"/><rect class="g" x="370" y="419" width="3" height="5"/><rect class="r" x="372" y="420" width="3" height="26"/><rect class="r" x="374" y="447" width="3" height="12"/><rect class="r" x="376" y="460" width="3" height="14"/><rect class="g" x="378" y="423" width="3" height="46"/><rect class="g" x="380" y="405" width="3" height="18"/><rect class="g" x="382" y="396" width="3" height="10"/><rect class="g" x="384" y="387" width="3" height="9"/><rect class="g" x="386" y="379" width="3" height="8"/><rect class="r" x="388" y="370" width="3" height="11"/><rect class="r" x="390" y="380" width="3" height="14"/><rect class="r" x="392" y="393" width="3" height="9"/><rect class="g" x="394" y="399" width="3" height="2"/><rect class="r" x="396" y="400" width="3" height="16"/><rect class="r" x="398" y="411" width="3" height="3"/><rect class="g" x="400" y="398" width="3" height="17"/><rect class="r" x="402" y="398" width="3" height="12"/><rect class="r" x="404" y="410" width="3" height="2"/><rect class="g" x="406" y="406" width="3" height="5"/><rect class="g" x="408" y="400" width="3" height="7"/><rect class="g" x="410" y="386" width="3" height="15"/><rect class="g" x="412" y="372" width="3" height="14"/><rect class="r" x="414" y="372" width="3" height="5"/><rect class="g" x="416" y="354" width="3" height="23"/><rect class="r" x="418" y="355" width="3" height="17"/><rect class="r" x="420" y="372" width="3" height="9"/><rect class="g" x="422" y="367" width="3" height="12"/><rect class="g" x="424" y="361" width="3" height="6"/><rect class="r" x="426" y="362" width="3" height="7"/><rect class="g" x="428" y="348" width="3" height="22"/><rect class="g" x="430" y="356" width="3" height="4"/><rect class="r" x="432" y="355" width="3" height="12"/><rect class="r" x="434" y="367" width="3" height="12"/><rect class="r" x="436" y="379" width="3" height="32"/><rect class="g" x="438" y="405" width="3" height="6"/><rect class="g" x="440" y="384" width="3" height="22"/><rect class="r" x="442" y="384" width="3" height="13"/><rect class="g" x="444" y="379" width="3" height="19"/><rect class="g" x="446" y="391" width="3" height="5"/><rect class="g" x="448" y="382" width="3" height="14"/><rect class="r" x="450" y="382" width="3" height="4"/><rect class="g" x="452" y="372" width="3" height="13"/><rect class="g" x="454" y="368" width="3" height="4"/><rect class="r" x="456" y="367" width="3" height="2"/><rect class="g" x="458" y="354" width="3" height="14"/><rect class="g" x="460" y="337" width="3" height="18"/><rect class="g" x="462" y="335" width="3" height="2"/><rect class="g" x="464" y="324" width="3" height="11"/><rect class="r" x="466" y="323" width="3" height="9"/><rect class="r" x="468" y="317" width="3" height="18"/><rect class="g" x="470" y="326" width="3" height="8"/><rect class="r" x="472" y="325" width="3" height="8"/><rect class="r" x="474" y="332" width="3" height="8"/><rect class="r" x="476" y="340" width="3" height="4"/><rect class="r" x="478" y="343" width="3" height="18"/><rect class="g" x="480" y="355" width="3" height="7"/><rect class="r" x="482" y="355" width="3" height="13"/><rect class="r" x="484" y="367" width="3" height="4"/><rect class="r" x="486" y="371" width="3" height="20"/><rect class="g" x="488" y="383" width="3" height="8"/><rect class="r" x="490" y="383" width="3" height="5"/><rect class="r" x="492" y="388" width="3" height="6"/><rect class="r" x="494" y="393" width="3" height="7"/><rect class="g" x="496" y="384" width="3" height="16"/><rect class="r" x="498" y="390" width="3" height="12"/><rect class="g" x="500" y="394" width="3" height="8"/><rect class="r" x="502" y="394" width="3" height="2"/><rect class="r" x="504" y="395" width="3" height="4"/><rect class="g" x="506" y="397" width="3" height="2"/><rect class="r" x="508" y="397" width="3" height="13"/><rect class="r" x="510" y="410" width="3" height="3"/><rect class="r" x="512" y="413" width="3" height="2"/><rect class="r" x="514" y="415" width="3" height="20"/><rect class="g" x="516" y="428" width="3" height="7"/><rect class="r" x="518" y="427" width="3" height="17"/><rect class="r" x="520" y="443" width="3" height="31"/><rect class="g" x="522" y="465" width="3" height="2"/><rect class="g" x="524" y="461" width="3" height="5"/><rect class="r" x="526" y="462" width="3" height="9"/><rect class="r" x="528" y="470" width="3" height="9"/><rect class="r" x="530" y="479" width="3" height="13"/><rect class="g" x="532" y="479" width="3" height="23"/><rect class="r" x="534" y="478" width="3" height="15"/><rect class="g" x="536" y="482" width="3" height="10"/><rect class="g" x="538" y="481" width="3" height="2"/><rect class="r" x="540" y="482" width="3" height="11"/><rect class="g" x="542" y="488" width="3" height="6"/><rect class="r" x="544" y="488" width="3" height="8"/><rect class="r" x="546" y="489" width="3" height="2"/><rect class="g" x="548" y="488" width="3" height="2"/><rect class="g" x="550" y="464" width="3" height="25"/><rect class="r" x="552" y="469" width="3" height="13"/><rect class="r" x="554" y="482" width="3" height="2"/><rect class="r" x="556" y="485" width="3" height="2"/><rect class="r" x="558" y="486" width="3" height="4"/><rect class="g" x="560" y="482" width="3" height="8"/><rect class="r" x="562" y="472" width="3" height="13"/><rect class="g" x="564" y="482" width="3" height="3"/><rect class="r" x="566" y="481" width="3" height="14"/><rect class="g" x="568" y="491" width="3" height="5"/><rect class="r" x="570" y="492" width="3" height="3"/><rect class="r" x="572" y="494" width="3" height="4"/><rect class="g" x="574" y="479" width="3" height="17"/><rect class="r" x="576" y="479" width="3" height="9"/><rect class="r" x="578" y="487" width="3" height="9"/><rect class="g" x="580" y="492" width="3" height="6"/><rect class="g" x="582" y="473" width="3" height="18"/><rect class="g" x="584" y="471" width="3" height="3"/><rect class="r" x="586" y="471" width="3" height="2"/><rect class="g" x="588" y="460" width="3" height="13"/><rect class="g" x="590" y="456" width="3" height="4"/><rect class="g" x="592" y="443" width="3" height="13"/><rect class="r" x="594" y="443" width="3" height="14"/><rect class="r" x="596" y="429" width="3" height="29"/><rect class="g" x="598" y="456" width="3" height="2"/><rect class="g" x="600" y="433" width="3" height="25"/><rect class="r" x="602" y="433" width="3" height="20"/><rect class="r" x="604" y="453" width="3" height="2"/><rect class="g" x="606" y="446" width="3" height="8"/><rect class="r" x="608" y="446" width="3" height="15"/><rect class="g" x="610" y="445" width="3" height="15"/><rect class="g" x="612" y="430" width="3" height="16"/><rect class="g" x="614" y="423" width="3" height="15"/><rect class="g" x="616" y="401" width="3" height="22"/><rect class="r" x="618" y="405" width="3" height="13"/><rect class="r" x="620" y="404" width="3" height="56"/><rect class="r" x="622" y="470" width="3" height="16"/><rect class="r" x="624" y="470" width="3" height="3"/><rect class="r" x="626" y="474" width="3" height="8"/><rect class="r" x="628" y="481" width="3" height="7"/><rect class="g" x="630" y="486" width="3" height="2"/><rect class="g" x="632" y="485" width="3" height="2"/><rect class="r" x="634" y="487" width="3" height="3"/><rect class="r" x="636" y="490" width="3" height="12"/><rect class="g" x="638" y="490" width="3" height="11"/><rect class="r" x="640" y="490" width="3" height="14"/><rect class="r" x="642" y="504" width="3" height="2"/><rect class="g" x="644" y="506" width="3" height="2"/><rect class="r" x="646" y="506" width="3" height="16"/><rect class="r" x="648" y="517" width="3" height="3"/><rect class="g" x="650" y="516" width="3" height="5"/><rect class="g" x="652" y="506" width="3" height="11"/><rect class="r" x="654" y="506" width="3" height="16"/><rect class="g" x="656" y="519" width="3" height="2"/><rect class="r" x="658" y="518" width="3" height="3"/><rect class="g" x="660" y="505" width="3" height="16"/><rect class="r" x="662" y="504" width="3" height="6"/><rect class="r" x="664" y="509" width="3" height="5"/><rect class="r" x="666" y="513" width="3" height="24"/><rect class="g" x="668" y="528" width="3" height="10"/><rect class="g" x="670" y="525" width="3" height="2"/><rect class="r" x="672" y="527" width="3" height="5"/><rect class="r" x="674" y="532" width="3" height="16"/><rect class="r" x="676" y="548" width="3" height="5"/><rect class="g" x="678" y="547" width="3" height="5"/><rect class="r" x="680" y="547" width="3" height="6"/><rect class="r" x="682" y="552" width="3" height="25"/><rect class="r" x="684" y="577" width="3" height="3"/><rect class="r" x="686" y="580" width="3" height="9"/><rect class="g" x="688" y="575" width="3" height="15"/><rect class="r" x="690" y="574" width="3" height="2"/><rect class="r" x="692" y="576" width="3" height="19"/><rect class="g" x="694" y="586" width="3" height="6"/><rect class="g" x="696" y="579" width="3" height="8"/><rect class="r" x="698" y="578" width="3" height="17"/><rect class="g" x="700" y="589" width="3" height="5"/><rect class="r" x="702" y="590" width="3" height="2"/><rect class="g" x="704" y="574" width="3" height="17"/><rect class="r" x="706" y="574" width="3" height="11"/><rect class="g" x="708" y="563" width="3" height="22"/><rect class="r" x="710" y="563" width="3" height="13"/><rect class="g" x="712" y="558" width="3" height="19"/><rect class="g" x="714" y="549" width="3" height="8"/><rect class="g" x="716" y="539" width="3" height="10"/><rect class="r" x="718" y="547" width="3" height="5"/><rect class="g" x="720" y="543" width="3" height="9"/><rect class="g" x="722" y="542" width="3" height="2"/><rect class="r" x="724" y="542" width="3" height="9"/><rect class="g" x="726" y="543" width="3" height="6"/><rect class="g" x="728" y="537" width="3" height="5"/><rect class="g" x="730" y="534" width="3" height="4"/><rect class="g" x="732" y="524" width="3" height="10"/><rect class="r" x="734" y="527" width="3" height="6"/><rect class="r" x="736" y="533" width="3" height="12"/><rect class="r" x="738" y="544" width="3" height="20"/><rect class="r" x="740" y="556" width="3" height="8"/><rect class="g" x="742" y="554" width="3" height="10"/><rect class="r" x="744" y="555" width="3" height="3"/><rect class="g" x="746" y="550" width="3" height="8"/><rect class="r" x="748" y="550" width="3" height="7"/><rect class="g" x="750" y="555" width="3" height="2"/><rect class="r" x="752" y="557" width="3" height="5"/><rect class="g" x="754" y="562" width="3" height="2"/><rect class="r" x="756" y="563" width="3" height="16"/><rect class="g" x="758" y="578" width="3" height="8"/><rect class="g" x="760" y="567" width="3" height="13"/><rect class="r" x="762" y="567" width="3" height="2"/><rect class="r" x="764" y="567" width="3" height="6"/><rect class="g" x="766" y="553" width="3" height="20"/><rect class="r" x="768" y="553" width="3" height="15"/><rect class="g" x="770" y="559" width="3" height="9"/><rect class="r" x="772" y="548" width="3" height="16"/><rect class="r" x="774" y="564" width="3" height="19"/><rect class="g" x="776" y="569" width="3" height="13"/><rect class="r" x="778" y="569" width="3" height="12"/><rect class="r" x="780" y="582" width="3" height="10"/><rect class="r" x="782" y="591" width="3" height="12"/><rect class="g" x="784" y="596" width="3" height="8"/><rect class="r" x="786" y="597" width="3" height="13"/><rect class="r" x="788" y="609" width="3" height="3"/><rect class="r" x="790" y="611" width="3" height="3"/><rect class="g" x="792" y="607" width="3" height="11"/><rect class="g" x="794" y="599" width="3" height="8"/><rect class="g" x="796" y="587" width="3" height="11"/><rect class="g" x="798" y="579" width="3" height="8"/><rect class="g" x="800" y="567" width="3" height="13"/><rect class="r" x="802" y="567" width="3" height="7"/><rect class="g" x="804" y="553" width="3" height="20"/><rect class="r" x="806" y="553" width="3" height="2"/><rect class="r" x="808" y="554" width="3" height="2"/><rect class="r" x="810" y="555" width="3" height="19"/><rect class="r" x="812" y="574" width="3" height="4"/><rect class="r" x="814" y="577" width="3" height="2"/><rect class="g" x="816" y="571" width="3" height="7"/><rect class="r" x="818" y="571" width="3" height="6"/><rect class="r" x="820" y="577" width="3" height="10"/><rect class="r" x="822" y="588" width="3" height="14"/><rect class="r" x="824" y="602" width="3" height="24"/><rect class="r" x="826" y="603" width="3" height="5"/><rect class="g" x="828" y="599" width="3" height="9"/><rect class="r" x="830" y="599" width="3" height="17"/><rect class="g" x="832" y="592" width="3" height="25"/><rect class="g" x="834" y="600" width="3" height="11"/><rect class="g" x="836" y="590" width="3" height="10"/><rect class="r" x="838" y="590" width="3" height="17"/><rect class="g" x="840" y="589" width="3" height="17"/><rect class="r" x="842" y="590" width="3" height="7"/><rect class="r" x="844" y="597" width="3" height="4"/><rect class="r" x="846" y="602" width="3" height="17"/><rect class="r" x="848" y="620" width="3" height="9"/><rect class="r" x="850" y="630" width="3" height="5"/><rect class="g" x="852" y="630" width="3" height="4"/><rect class="r" x="854" y="631" width="3" height="11"/><rect class="g" x="856" y="635" width="3" height="8"/><rect class="r" x="858" y="635" width="3" height="6"/><rect class="g" x="860" y="636" width="3" height="4"/><rect class="r" x="862" y="637" width="3" height="5"/><rect class="g" x="864" y="633" width="3" height="9"/><rect class="g" x="866" y="628" width="3" height="5"/><rect class="r" x="868" y="631" width="3" height="10"/><rect class="r" x="870" y="640" width="3" height="2"/><rect class="r" x="872" y="641" width="3" height="16"/><rect class="g" x="874" y="656" width="3" height="2"/><rect class="r" x="876" y="656" width="3" height="11"/><rect class="g" x="878" y="657" width="3" height="4"/><rect class="g" x="880" y="654" width="3" height="3"/><rect class="g" x="882" y="653" width="3" height="2"/><rect class="g" x="884" y="638" width="3" height="15"/><rect class="r" x="886" y="636" width="3" height="12"/><rect class="g" x="888" y="638" width="3" height="8"/><rect class="r" x="890" y="641" width="3" height="7"/><rect class="r" x="892" y="671" width="3" height="29"/><rect class="g" x="894" y="680" width="3" height="17"/><rect class="g" x="896" y="678" width="3" height="19"/><rect class="r" x="898" y="678" width="3" height="13"/><rect class="g" x="900" y="689" width="3" height="2"/><rect class="g" x="902" y="684" width="3" height="6"/><rect class="g" x="904" y="683" width="3" height="2"/><rect class="g" x="906" y="682" width="3" height="2"/><rect class="g" x="908" y="668" width="3" height="13"/><rect class="r" x="910" y="667" width="3" height="7"/><rect class="g" x="912" y="672" width="3" height="2"/><rect class="r" x="914" y="672" width="3" height="4"/><rect class="g" x="916" y="664" width="3" height="14"/><rect class="r" x="918" y="675" width="3" height="3"/><rect class="g" x="920" y="676" width="3" height="2"/><rect class="r" x="922" y="676" width="3" height="6"/><rect class="g" x="924" y="675" width="3" height="7"/><rect class="g" x="926" y="664" width="3" height="11"/><rect class="g" x="928" y="633" width="3" height="30"/><rect class="g" x="930" y="624" width="3" height="8"/><rect class="g" x="932" y="622" width="3" height="2"/><rect class="r" x="934" y="620" width="3" height="2"/><rect class="g" x="936" y="614" width="3" height="7"/><rect class="r" x="938" y="614" width="3" height="10"/><rect class="g" x="940" y="616" width="3" height="10"/><rect class="r" x="942" y="624" width="3" height="11"/><rect class="r" x="944" y="635" width="3" height="6"/><rect class="r" x="946" y="641" width="3" height="4"/><rect class="r" x="948" y="643" width="3" height="2"/><rect class="r" x="950" y="644" width="3" height="2"/><rect class="r" x="952" y="645" width="3" height="7"/><rect class="g" x="954" y="651" width="3" height="2"/><rect class="g" x="956" y="647" width="3" height="4"/><rect class="r" x="958" y="646" width="3" height="2"/><rect class="r" x="960" y="639" width="3" height="14"/><rect class="g" x="962" y="647" width="3" height="6"/><rect class="r" x="964" y="647" width="3" height="19"/><rect class="g" x="966" y="663" width="3" height="3"/><rect class="r" x="968" y="662" width="3" height="13"/><rect class="r" x="970" y="662" width="3" height="2"/><rect class="r" x="972" y="663" width="3" height="6"/><rect class="g" x="974" y="658" width="3" height="11"/><rect class="r" x="976" y="654" width="3" height="10"/><rect class="r" x="978" y="664" width="3" height="2"/><rect class="g" x="980" y="658" width="3" height="8"/><rect class="g" x="982" y="656" width="3" height="2"/><rect class="r" x="984" y="656" width="3" height="2"/><rect class="r" x="986" y="658" width="3" height="3"/><rect class="r" x="988" y="654" width="3" height="9"/><rect class="r" x="990" y="664" width="3" height="2"/><rect class="r" x="992" y="664" width="3" height="5"/><rect class="g" x="994" y="661" width="3" height="8"/><rect class="r" x="996" y="661" width="3" height="8"/><rect class="r" x="998" y="668" width="3" height="8"/><rect class="r" x="1000" y="676" width="3" height="14"/><rect class="g" x="1002" y="681" width="3" height="8"/><rect class="r" x="1004" y="681" width="3" height="2"/><rect class="g" x="1006" y="673" width="3" height="9"/><rect class="g" x="1008" y="670" width="3" height="3"/><rect class="r" x="1010" y="670" width="3" height="7"/><rect class="r" x="1012" y="677" width="3" height="10"/><rect class="r" x="1014" y="687" width="3" height="4"/><rect class="r" x="1016" y="690" width="3" height="5"/><rect class="g" x="1018" y="687" width="3" height="6"/><rect class="r" x="1020" y="687" width="3" height="4"/><rect class="g" x="1022" y="689" width="3" height="2"/><rect class="r" x="1024" y="685" width="3" height="5"/><rect class="g" x="1026" y="688" width="3" height="3"/><rect class="r" x="1028" y="687" width="3" height="16"/><rect class="g" x="1030" y="693" width="3" height="9"/><rect class="r" x="1032" y="693" width="3" height="17"/><rect class="g" x="1034" y="703" width="3" height="8"/><rect class="g" x="1036" y="682" width="3" height="20"/><rect class="r" x="1038" y="680" width="3" height="2"/><rect class="r" x="1040" y="682" width="3" height="2"/><rect class="r" x="1042" y="684" width="3" height="2"/><rect class="g" x="1044" y="670" width="3" height="14"/><rect class="g" x="1046" y="673" width="3" height="2"/><rect class="r" x="1048" y="672" width="3" height="5"/><rect class="r" x="1050" y="678" width="3" height="19"/><rect class="g" x="1052" y="683" width="3" height="15"/><rect class="r" x="1054" y="683" width="3" height="4"/><rect class="g" x="1056" y="674" width="3" height="14"/><rect class="r" x="1058" y="673" width="3" height="4"/><rect class="r" x="1060" y="677" width="3" height="2"/><rect class="g" x="1062" y="665" width="3" height="15"/><rect class="r" x="1064" y="666" width="3" height="5"/><rect class="g" x="1066" y="665" width="3" height="7"/><rect class="g" x="1068" y="663" width="3" height="2"/><rect class="g" x="1070" y="650" width="3" height="12"/><rect class="g" x="1072" y="629" width="3" height="21"/><rect class="r" x="1074" y="628" width="3" height="11"/><rect class="g" x="1076" y="622" width="3" height="17"/><rect class="g" x="1078" y="607" width="3" height="14"/><rect class="g" x="1080" y="606" width="3" height="2"/><rect class="r" x="1082" y="607" width="3" height="13"/><rect class="r" x="1084" y="620" width="3" height="2"/><rect class="g" x="1086" y="621" width="3" height="2"/><rect class="r" x="1088" y="621" width="3" height="3"/><rect class="r" x="1090" y="623" width="3" height="11"/><rect class="r" x="1092" y="634" width="3" height="5"/><rect class="r" x="1094" y="639" width="3" height="15"/><rect class="g" x="1096" y="644" width="3" height="10"/><rect class="r" x="1098" y="645" width="3" height="14"/><rect class="r" x="1100" y="659" width="3" height="3"/><rect class="g" x="1102" y="652" width="3" height="10"/><rect class="r" x="1104" y="652" width="3" height="18"/><rect class="r" x="1106" y="670" width="3" height="2"/><rect class="r" x="1108" y="672" width="3" height="7"/><rect class="g" x="1110" y="667" width="3" height="9"/><rect class="g" x="1112" y="664" width="3" height="4"/><rect class="g" x="1114" y="661" width="3" height="3"/><rect class="r" x="1116" y="662" width="3" height="9"/><rect class="g" x="1118" y="663" width="3" height="9"/><rect class="g" x="1120" y="655" width="3" height="7"/><rect class="r" x="1122" y="654" width="3" height="2"/><rect class="g" x="1124" y="652" width="3" height="4"/><rect class="g" x="1126" y="636" width="3" height="16"/><rect class="g" x="1128" y="619" width="3" height="17"/><rect class="r" x="1130" y="624" width="3" height="15"/><rect class="g" x="1132" y="630" width="3" height="9"/><rect class="r" x="1134" y="631" width="3" height="19"/><rect class="g" x="1136" y="637" width="3" height="14"/><rect class="r" x="1138" y="637" width="3" height="3"/><rect class="r" x="1140" y="639" width="3" height="9"/><rect class="g" x="1142" y="644" width="3" height="5"/><rect class="r" x="1144" y="644" width="3" height="6"/><rect class="r" x="1146" y="650" width="3" height="15"/><rect class="r" x="1148" y="665" width="3" height="2"/><rect class="r" x="1150" y="666" width="3" height="2"/><rect class="r" x="1152" y="667" width="3" height="2"/><rect class="r" x="1154" y="668" width="3" height="6"/><rect class="r" x="1156" y="675" width="3" height="3"/><rect class="g" x="1158" y="677" width="3" height="2"/><rect class="r" x="1160" y="677" width="3" height="8"/><rect class="g" x="1162" y="678" width="3" height="12"/><rect class="r" x="1164" y="678" width="3" height="10"/><rect class="g" x="1166" y="682" width="3" height="6"/><rect class="r" x="1168" y="681" width="3" height="6"/><rect class="g" x="1170" y="685" width="3" height="2"/><rect class="g" x="1172" y="675" width="3" height="10"/><rect class="r" x="1174" y="676" width="3" height="2"/><rect class="r" x="1176" y="677" width="3" height="16"/><rect class="g" x="1178" y="684" width="3" height="9"/><rect class="r" x="1180" y="683" width="3" height="9"/><rect class="r" x="1182" y="691" width="3" height="11"/><rect class="g" x="1184" y="689" width="3" height="4"/><rect class="r" x="1186" y="689" width="3" height="7"/><rect class="r" x="1188" y="695" width="3" height="2"/><rect class="g" x="1190" y="679" width="3" height="18"/><rect class="r" x="1192" y="678" width="3" height="9"/><rect class="g" x="1194" y="676" width="3" height="10"/><rect class="r" x="1196" y="675" width="3" height="7"/><rect class="g" x="1198" y="675" width="3" height="7"/><rect class="g" x="1200" y="671" width="3" height="3"/><rect class="g" x="1202" y="669" width="3" height="2"/><rect class="g" x="1204" y="666" width="3" height="4"/><rect class="r" x="1206" y="670" width="3" height="10"/><rect class="g" x="1208" y="676" width="3" height="4"/><rect class="g" x="1210" y="674" width="3" height="2"/><rect class="r" x="1212" y="675" width="3" height="11"/><rect class="r" x="1214" y="685" width="3" height="4"/><rect class="g" x="1216" y="684" width="3" height="6"/><rect class="g" x="1218" y="683" width="3" height="2"/><rect class="r" x="1220" y="683" width="3" height="2"/><rect class="r" x="1222" y="685" width="3" height="2"/><rect class="r" x="1224" y="686" width="3" height="11"/><rect class="g" x="1226" y="688" width="3" height="2"/><rect class="g" x="1228" y="687" width="3" height="2"/><rect class="g" x="1230" y="684" width="3" height="2"/><rect class="r" x="1232" y="682" width="3" height="10"/><rect class="r" x="1234" y="692" width="3" height="9"/><rect class="r" x="1236" y="700" width="3" height="5"/><rect class="r" x="1238" y="704" width="3" height="2"/><rect class="r" x="1240" y="705" width="3" height="3"/><rect class="r" x="1242" y="708" width="3" height="4"/><rect class="g" x="1244" y="710" width="3" height="6"/><rect class="g" x="1246" y="708" width="3" height="3"/><rect class="g" x="1248" y="703" width="3" height="5"/><rect class="g" x="1250" y="702" width="3" height="2"/><rect class="r" x="1252" y="703" width="3" height="5"/><rect class="g" x="1254" y="695" width="3" height="13"/><rect class="r" x="1256" y="692" width="3" height="5"/><rect class="r" x="1258" y="696" width="3" height="2"/><rect class="r" x="1260" y="697" width="3" height="3"/><rect class="g" x="1262" y="695" width="3" height="5"/><rect class="r" x="1264" y="695" width="3" height="2"/><rect class="r" x="1266" y="698" width="3" height="2"/><rect class="r" x="1268" y="701" width="3" height="5"/><rect class="r" x="1270" y="706" width="3" height="6"/><rect class="r" x="1272" y="712" width="3" height="16"/><rect class="r" x="1274" y="729" width="3" height="6"/><rect class="r" x="1276" y="735" width="3" height="2"/><rect class="g" x="1278" y="729" width="3" height="8"/><rect class="r" x="1280" y="729" width="3" height="3"/><rect class="r" x="1282" y="732" width="3" height="14"/><rect class="r" x="1284" y="746" width="3" height="12"/><rect class="g" x="1286" y="746" width="3" height="9"/><rect class="g" x="1288" y="740" width="3" height="7"/><rect class="g" x="1290" y="719" width="3" height="21"/><rect class="g" x="1292" y="716" width="3" height="2"/><rect class="r" x="1294" y="717" width="3" height="3"/><rect class="g" x="1296" y="715" width="3" height="4"/><rect class="g" x="1298" y="712" width="3" height="3"/><rect class="g" x="1300" y="712" width="3" height="2"/><rect class="g" x="1302" y="703" width="3" height="9"/><rect class="g" x="1304" y="701" width="3" height="2"/><rect class="r" x="1306" y="700" width="3" height="2"/><rect class="r" x="1308" y="701" width="3" height="12"/><rect class="g" x="1310" y="706" width="3" height="2"/><rect class="g" x="1312" y="706" width="3" height="2"/><rect class="g" x="1314" y="700" width="3" height="7"/><rect class="g" x="1316" y="688" width="3" height="12"/><rect class="r" x="1318" y="696" width="3" height="2"/><rect class="g" x="1320" y="697" width="3" height="2"/><rect class="r" x="1322" y="698" width="3" height="7"/><rect class="g" x="1324" y="700" width="3" height="6"/><rect class="r" x="1326" y="700" width="3" height="17"/><rect class="g" x="1328" y="708" width="3" height="9"/><rect class="r" x="1330" y="708" width="3" height="14"/><rect class="g" x="1332" y="719" width="3" height="5"/><rect class="g" x="1334" y="710" width="3" height="9"/><rect class="g" x="1336" y="707" width="3" height="3"/><rect class="g" x="1338" y="706" width="3" height="2"/><rect class="g" x="1340" y="703" width="3" height="3"/><rect class="g" x="1342" y="696" width="3" height="7"/><rect class="g" x="1344" y="680" width="3" height="16"/><rect class="g" x="1346" y="671" width="3" height="9"/><rect class="r" x="1348" y="659" width="3" height="16"/><rect class="g" x="1350" y="674" width="3" height="2"/><rect class="g" x="1352" y="669" width="3" height="6"/><rect class="g" x="1354" y="668" width="3" height="2"/><rect class="r" x="1356" y="668" width="3" height="11"/><rect class="g" x="1358" y="670" width="3" height="10"/><rect class="r" x="1360" y="670" width="3" height="2"/><rect class="r" x="1362" y="671" width="3" height="4"/><rect class="r" x="1364" y="668" width="3" height="21"/><rect class="g" x="1366" y="686" width="3" height="4"/><rect class="r" x="1368" y="685" width="3" height="6"/><rect class="g" x="1370" y="689" width="3" height="2"/><rect class="r" x="1372" y="689" width="3" height="4"/><rect class="r" x="1374" y="693" width="3" height="7"/><rect class="r" x="1376" y="700" width="3" height="12"/><rect class="g" x="1378" y="709" width="3" height="3"/><rect class="g" x="1380" y="701" width="3" height="8"/><rect class="g" x="1382" y="698" width="3" height="2"/><rect class="r" x="1384" y="697" width="3" height="5"/><rect class="r" x="1386" y="701" width="3" height="4"/><rect class="g" x="1388" y="703" width="3" height="2"/><rect class="g" x="1390" y="703" width="3" height="2"/><rect class="r" x="1392" y="705" width="3" height="7"/><rect class="r" x="1394" y="711" width="3" height="4"/><rect class="g" x="1396" y="706" width="3" height="9"/><rect class="g" x="1398" y="703" width="3" height="2"/><rect class="r" x="1400" y="704" width="3" height="2"/><rect class="r" x="1402" y="706" width="3" height="2"/><rect class="r" x="1404" y="708" width="3" height="8"/><rect class="g" x="1406" y="702" width="3" height="10"/><rect class="r" x="1408" y="701" width="3" height="10"/><rect class="g" x="1410" y="709" width="3" height="2"/><rect class="g" x="1412" y="699" width="3" height="11"/><rect class="g" x="1414" y="702" width="3" height="2"/><rect class="r" x="1416" y="702" width="3" height="15"/><rect class="g" x="1418" y="711" width="3" height="6"/><rect class="r" x="1420" y="712" width="3" height="11"/><rect class="g" x="1422" y="717" width="3" height="5"/><rect class="r" x="1424" y="716" width="3" height="5"/><rect class="r" x="1426" y="721" width="3" height="13"/><rect class="g" x="1428" y="728" width="3" height="7"/><rect class="r" x="1430" y="728" width="3" height="14"/><rect class="g" x="1432" y="737" width="3" height="4"/><rect class="g" x="1434" y="735" width="3" height="2"/><rect class="r" x="1436" y="734" width="3" height="12"/><rect class="r" x="1438" y="736" width="3" height="2"/><rect class="r" x="1440" y="738" width="3" height="2"/><rect class="r" x="1442" y="738" width="3" height="2"/><rect class="g" x="1444" y="729" width="3" height="10"/><rect class="g" x="1446" y="727" width="3" height="2"/><rect class="g" x="1448" y="721" width="3" height="6"/><rect class="r" x="1450" y="724" width="3" height="8"/><rect class="g" x="1452" y="722" width="3" height="11"/><rect class="g" x="1454" y="721" width="3" height="2"/><rect class="g" x="1456" y="722" width="3" height="2"/><rect class="r" x="1458" y="722" width="3" height="4"/><rect class="r" x="1460" y="725" width="3" height="8"/><rect class="r" x="1462" y="732" width="3" height="2"/><rect class="g" x="1464" y="731" width="3" height="2"/><rect class="r" x="1466" y="732" width="3" height="2"/><rect class="r" x="1468" y="732" width="3" height="2"/><rect class="g" x="1470" y="723" width="3" height="10"/><rect class="g" x="1472" y="721" width="3" height="11"/><rect class="r" x="1474" y="722" width="3" height="7"/><rect class="g" x="1476" y="722" width="3" height="8"/><rect class="g" x="1478" y="707" width="3" height="16"/><rect class="r" x="1480" y="702" width="3" height="11"/><rect class="g" x="1482" y="706" width="3" height="8"/><rect class="r" x="1484" y="705" width="3" height="2"/><rect class="r" x="1486" y="705" width="3" height="2"/><rect class="g" x="1488" y="705" width="3" height="2"/><rect class="g" x="1490" y="703" width="3" height="2"/><rect class="r" x="1492" y="704" width="3" height="4"/><rect class="r" x="1494" y="709" width="3" height="2"/><rect class="r" x="1496" y="712" width="3" height="10"/><rect class="g" x="1498" y="712" width="3" height="10"/><rect class="r" x="1500" y="711" width="3" height="14"/><rect class="g" x="1502" y="717" width="3" height="9"/><rect class="r" x="1504" y="716" width="3" height="5"/><rect class="r" x="1506" y="722" width="3" height="12"/><rect class="r" x="1508" y="733" width="3" height="5"/><rect class="g" x="1510" y="732" width="3" height="6"/><rect class="g" x="1512" y="728" width="3" height="5"/><rect class="r" x="1514" y="729" width="3" height="12"/><rect class="r" x="1516" y="740" width="3" height="3"/><rect class="r" x="1518" y="743" width="3" height="14"/><rect class="g" x="1520" y="741" width="3" height="17"/><rect class="g" x="1522" y="739" width="3" height="2"/><rect class="r" x="1524" y="738" width="3" height="7"/><rect class="g" x="1526" y="723" width="3" height="23"/><rect class="r" x="1528" y="722" width="3" height="2"/><rect class="r" x="1530" y="723" width="3" height="2"/><rect class="g" x="1532" y="723" width="3" height="2"/><rect class="g" x="1534" y="709" width="3" height="14"/><rect class="g" x="1536" y="707" width="3" height="2"/><rect class="g" x="1538" y="706" width="3" height="2"/><rect class="r" x="1540" y="706" width="3" height="13"/><rect class="g" x="1542" y="699" width="3" height="20"/><rect class="r" x="1544" y="692" width="3" height="11"/><rect class="g" x="1546" y="702" width="3" height="2"/><rect class="g" x="1548" y="694" width="3" height="9"/><rect class="g" x="1550" y="693" width="3" height="2"/><rect class="r" x="1552" y="694" width="3" height="3"/><rect class="g" x="1554" y="690" width="3" height="7"/><rect class="g" x="1556" y="679" width="3" height="11"/><rect class="r" x="1558" y="680" width="3" height="2"/><rect class="g" x="1560" y="671" width="3" height="11"/><rect class="r" x="1562" y="675" width="3" height="7"/><rect class="r" x="1564" y="681" width="3" height="5"/><rect class="r" x="1566" y="685" width="3" height="35"/><rect class="r" x="1568" y="720" width="3" height="16"/><rect class="g" x="1570" y="729" width="3" height="5"/><rect class="g" x="1572" y="725" width="3" height="4"/><rect class="g" x="1574" y="694" width="3" height="31"/><rect class="g" x="1576" y="687" width="3" height="8"/><rect class="g" x="1578" y="683" width="3" height="4"/><rect class="r" x="1580" y="683" width="3" height="2"/><rect class="g" x="1582" y="673" width="3" height="11"/><rect class="g" x="1584" y="651" width="3" height="23"/><rect class="g" x="1586" y="649" width="3" height="2"/><rect class="r" x="1588" y="649" width="3" height="7"/><rect class="r" x="1590" y="656" width="3" height="7"/><rect class="r" x="1592" y="662" width="3" height="10"/><rect class="g" x="1594" y="668" width="3" height="4"/><rect class="r" x="1596" y="668" width="3" height="12"/><rect class="g" x="1598" y="677" width="3" height="3"/><rect class="g" x="1600" y="675" width="3" height="2"/><rect class="g" x="1602" y="657" width="3" height="11"/><rect class="g" x="1604" y="651" width="3" height="11"/><rect class="r" x="1606" y="653" width="3" height="12"/><rect class="r" x="1608" y="655" width="3" height="7"/></g><line x1="39" y1="9" x2="1369" y2="744.5" stroke="#000" stroke-width="2.6" stroke-linecap="butt" shape-rendering="crispEdges"/><text x="747.6" y="348" textLength="74.6" font-family="Liberation Sans, sans-serif" font-size="14" fill="#0000ff" lengthAdjust="spacingAndGlyphs">LONG-TERM</text><text x="747.6" y="366" textLength="79.6" font-family="Liberation Sans, sans-serif" font-size="14" fill="#0000ff" lengthAdjust="spacingAndGlyphs">DOWNWARD</text><text x="747.6" y="383" textLength="67.4" font-family="Liberation Sans, sans-serif" font-size="14" fill="#0000ff" lengthAdjust="spacingAndGlyphs">TRENDLINE</text><text x="1260.4" y="639" textLength="42.8" font-family="Liberation Sans, sans-serif" font-size="14" fill="#0000ff" lengthAdjust="spacingAndGlyphs">UPSIDE</text><text x="1260.4" y="657" textLength="43.6" font-family="Liberation Sans, sans-serif" font-size="14" fill="#0000ff" lengthAdjust="spacingAndGlyphs">BREAK</text><text x="1543.4" y="556" textLength="43.6" font-family="Liberation Sans, sans-serif" font-size="14" fill="#0000ff" lengthAdjust="spacingAndGlyphs">ADDED</text><text x="1543.4" y="573" textLength="50.2" font-family="Liberation Sans, sans-serif" font-size="14" fill="#0000ff" lengthAdjust="spacingAndGlyphs">TO WSL</text><text x="1543.4" y="591" textLength="47.4" font-family="Liberation Sans, sans-serif" font-size="14" fill="#0000ff" lengthAdjust="spacingAndGlyphs">23-4-25</text><text x="1543.4" y="608" textLength="57.8" font-family="Liberation Sans, sans-serif" font-size="14" fill="#0000ff" lengthAdjust="spacingAndGlyphs">AT 2320c</text><path d="M1294 669H1299V679.5H1303.5L1296.0 687.5L1288.5 679.5H1294Z" fill="#ff0000"/><path d="M1294.5 669.5V679.5M1289.5 680.1L1296.0 686.7" stroke="#a00000" stroke-width="1" fill="none" opacity="0.75"/><path d="M1586 620H1591V631H1596L1588.5 638.5L1581 631H1586Z" fill="#ff0000"/><path d="M1586.5 620.5V631M1582 631.6L1588.5 637.7" stroke="#a00000" stroke-width="1" fill="none" opacity="0.75"/><g shape-rendering="crispEdges"><rect x="1673" y="0" width="2" height="762" fill="#454545"/><path d="M1675 32.5H1687M1675 57.5H1681M1675 81.5H1687M1675 105.5H1681M1675 129.5H1687M1675 154.5H1681M1675 178.5H1687M1675 203.5H1681M1675 227.5H1687M1675 251.5H1681M1675 275.5H1687M1675 300.5H1681M1675 324.5H1687M1675 349.5H1681M1675 372.5H1687M1675 397.5H1681M1675 421.5H1687M1675 446.5H1681M1675 470.5H1687M1675 495.5H1681M1675 518.5H1687M1675 543.5H1681M1675 567.5H1687M1675 592.5H1681M1675 616.5H1687M1675 641.5H1681M1675 664.5H1687M1675 689.5H1681M1675 713.5H1687" stroke="#000" stroke-width="1"/><g font-family="Liberation Sans, sans-serif" font-size="12" fill="#000" letter-spacing="1.45"><text x="1688.6" y="35.5">7607</text><text x="1688.6" y="84.5">7193</text><text x="1688.6" y="132.5">6778</text><text x="1688.6" y="181.5">6364</text><text x="1688.6" y="230.5">5949</text><text x="1688.6" y="278.5">5534</text><text x="1688.6" y="327.5">5120</text><text x="1688.6" y="375.5">4705</text><text x="1688.6" y="424.5">4290</text><text x="1688.6" y="473.5">3876</text><text x="1688.6" y="521.5">3461</text><text x="1688.6" y="570.5">3047</text><text x="1688.6" y="619.5">2632</text><text x="1688.6" y="667.5">2217</text><text x="1688.6" y="716.5">1803</text></g><rect x="0" y="763" width="1726" height="19" fill="#c0ffff"/><rect x="0" y="761" width="1673" height="2" fill="#000"/><rect x="1673" y="762" width="53" height="1" fill="#000"/><path d="M38.5 763V782M82.5 763V782M117.5 763V782M160.5 763V782M201.5 763V782M243.5 763V782M286.5 763V782M330.5 763V782M371.5 763V782M415.5 763V782M452.5 763V782M494.5 763V782M534.5 763V782M577.5 763V782M611.5 763V782M655.5 763V782M696.5 763V782M737.5 763V782M782.5 763V782M821.5 763V782M863.5 763V782M907.5 763V782M943.5 763V782M987.5 763V782M1029.5 763V782M1066.5 763V782M1108.5 763V782M1149.5 763V782M1187.5 763V782M1232.5 763V782M1274.5 763V782M1313.5 763V782M1358.5 763V782M1401.5 763V782M1438.5 763V782M1482.5 763V782M1520.5 763V782M1561.5 763V782M1598.5 763V782" stroke="#2a4444" stroke-width="1"/><g font-family="Liberation Sans, sans-serif" font-size="12" fill="#000" letter-spacing="0.9"><text x="2.4" y="778">Feb</text><text x="41.4" y="778">Mar</text><text x="85.4" y="778">Apr</text><text x="120.4" y="778">May</text><text x="163.4" y="778">Jun</text><text x="204.4" y="778">Jul</text><text x="246.4" y="778">Aug</text><text x="289.4" y="778">Sep</text><text x="333.4" y="778">Oct</text><text x="374.4" y="778">Nov</text><text x="418.4" y="778">Dec</text><text x="455.4" y="778">23</text><text x="497.4" y="778">Feb</text><text x="537.4" y="778">Mar</text><text x="580.4" y="778">Apr</text><text x="614.4" y="778">May</text><text x="658.4" y="778">Jun</text><text x="699.4" y="778">Jul</text><text x="740.4" y="778">Aug</text><text x="785.4" y="778">Sep</text><text x="824.4" y="778">Oct</text><text x="866.4" y="778">Nov</text><text x="910.4" y="778">Dec</text><text x="946.4" y="778">24</text><text x="990.4" y="778">Feb</text><text x="1032.4" y="778">Mar</text><text x="1069.4" y="778">Apr</text><text x="1111.4" y="778">May</text><text x="1152.4" y="778">Jun</text><text x="1190.4" y="778">Jul</text><text x="1235.4" y="778">Aug</text><text x="1277.4" y="778">Sep</text><text x="1316.4" y="778">Oct</text><text x="1361.4" y="778">Nov</text><text x="1404.4" y="778">Dec</text><text x="1441.4" y="778">25</text><text x="1485.4" y="778">Feb</text><text x="1523.4" y="778">Mar</text><text x="1564.4" y="778">Apr</text><text x="1601.4" y="778">May</text></g></g></svg></body></html>
